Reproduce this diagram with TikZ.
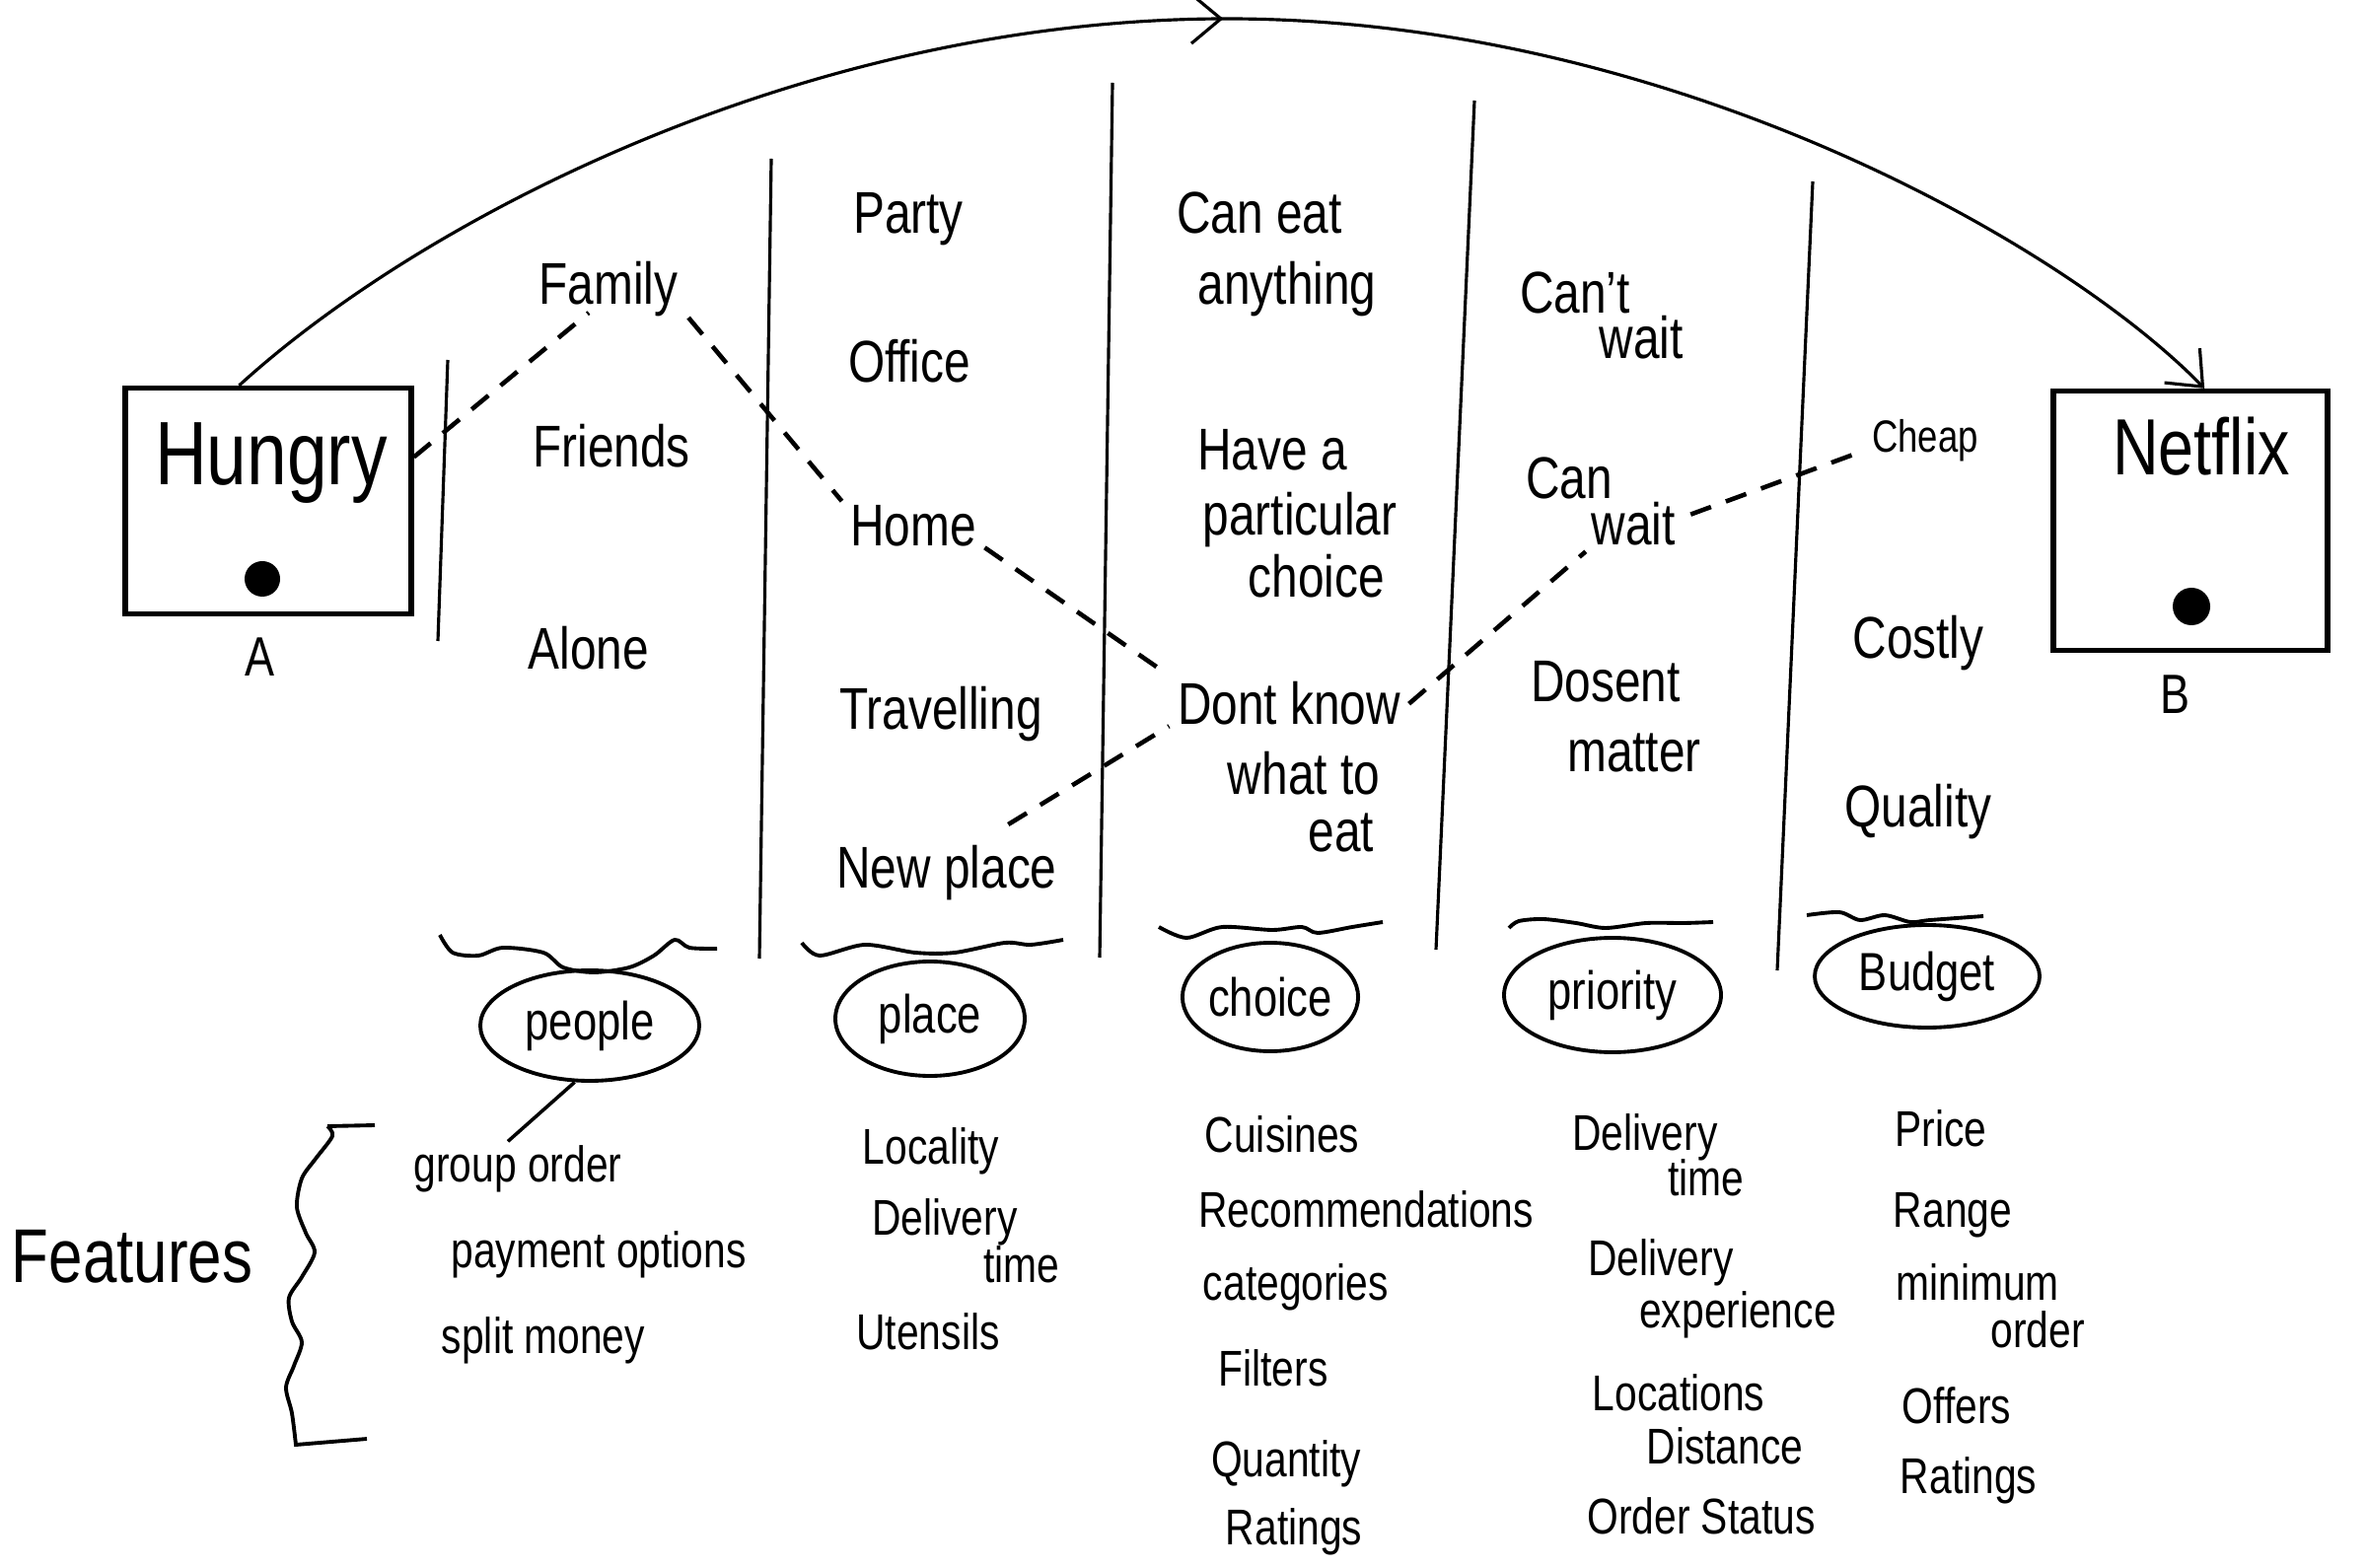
\documentclass[tikz,border=0pt]{standalone}
\usepackage{fontspec}
\setmainfont{Liberation Sans}[FakeStretch=0.8]
\usetikzlibrary{shapes.geometric,arrows.meta,decorations.markings,calc}
\begin{document}
\begin{tikzpicture}[x=0.1mm,y=-0.1mm,
  lbl/.style={anchor=base, inner sep=0pt, font=\fontsize{17}{20}\selectfont},
  smalllbl/.style={anchor=base, inner sep=0pt, font=\fontsize{13}{16}\selectfont},
  feat/.style={anchor=base, inner sep=0pt, font=\fontsize{14.5}{17}\selectfont},
  bubble/.style={draw, ellipse, line width=1.1pt, inner sep=0pt, font=\fontsize{15.5}{18}\selectfont},
  frame/.style={draw, line width=1.5pt, inner sep=0pt},
  blob/.style={circle, fill=black, inner sep=0pt},
  trail/.style={line width=1.3pt, dash pattern=on 2.2mm off 1.6mm},
  divider/.style={line width=0.9pt},
  wave/.style={line width=1.1pt},
  bigarc/.style={line width=0.9pt, -{Straight Barb[length=3mm,width=5mm]},
    postaction={decorate},
    decoration={markings, mark=at position 0.5 with {\arrow{Straight Barb[length=3mm,width=5mm]}}}}
]
\useasboundingbox (0,0) rectangle (2400,1590);

% ---------- boxes A and B ----------
\node[frame, minimum width=29mm, minimum height=22.9mm] (hungry) at (272,508) {};
\node[anchor=base, inner sep=0pt, font=\fontsize{26}{30}\selectfont] (hungrytxt) at (275,492) {Hungry};
\node[blob, minimum size=3.6mm] (hdot) at (266,587) {};
\node[anchor=base, inner sep=0pt, font=\fontsize{16}{19}\selectfont] (labA) at (263,686) {A};

\node[frame, minimum width=27.8mm, minimum height=26.3mm] (netflix) at (2221,528) {};
\node[anchor=base, inner sep=0pt, font=\fontsize{23}{27}\selectfont] (netflixtxt) at (2232,482) {Netflix};
\node[blob, minimum size=3.8mm] (ndot) at (2222,615) {};
\node[anchor=base, inner sep=0pt, font=\fontsize{16}{19}\selectfont] (labB) at (2205,724) {B};

% ---------- big arc ----------
\coordinate (arcstart) at ($(hungry.north west)!0.4!(hungry.north east)$);
\coordinate (arcend) at ($(netflix.north west)!0.55!(netflix.north east)$);
\coordinate (peak) at (1244,19);
\draw[bigarc] (arcstart) .. controls (430,220) and (820,19) .. (peak)
  .. controls (1690,19) and (2090,245) .. (arcend);

% ---------- dividers ----------
\draw[divider] (454,365) -- (444,650);
\draw[divider] (782,161) -- (770,972);
\draw[divider] (1128,84) -- (1115,971);
\draw[divider] (1495,102) -- (1456,963);
\draw[divider] (1838,184) -- (1802,984);

% ---------- column labels ----------
\node[lbl] (family) at (617,309) {Family};
\node[lbl] (friends) at (620,474) {Friends};
\node[lbl] (alone) at (597,679) {Alone};

\node[lbl] (party) at (921,237) {Party};
\node[lbl] (office) at (922,388) {Office};
\node[lbl] (home) at (926,554) {Home};
\node[lbl] (travelling) at (954,740) {Travelling};
\node[lbl] (newplace) at (960,900) {New place};

\node[lbl] (caneat1) at (1277,237) {Can eat};
\node[lbl] (caneat2) at (1305,309) {anything};
\node[lbl] (have1) at (1290,477) {Have a};
\node[lbl] (have2) at (1318,543) {particular};
\node[lbl] (have3) at (1335,606) {choice};
\node[lbl] (dk) at (1307,735) {Dont know};
\node[lbl] (dk2) at (1322,806) {what to};
\node[lbl] (dk3) at (1360,863) {eat};

\node[lbl] (cant1) at (1597,318) {Can't};
\node[lbl] (cant2) at (1664,364) {wait};
\node[lbl] (cw1) at (1591,506) {Can};
\node[lbl] (cw2) at (1656,553) {wait};
\node[lbl] (dm1) at (1628,712) {Dosent};
\node[lbl] (dm2) at (1657,782) {matter};

\node[smalllbl] (cheap) at (1952,459) {Cheap};
\node[lbl] (costly) at (1945,668) {Costly};
\node[lbl] (quality) at (1945,839) {Quality};

% ---------- chosen path ----------
\draw[trail] ($(hungry.north east)!0.31!(hungry.south east)$) -- ([xshift=-2mm,yshift=0.5mm]family.south);
\draw[trail] ([xshift=1mm]family.south east) -- ([xshift=-0.8mm,yshift=0.4mm]home.north west);
\draw[trail] ([xshift=0.8mm]home.south east) -- ([xshift=-0.8mm,yshift=0.6mm]dk.north west);
\draw[trail] ([xshift=-5mm,yshift=2mm]newplace.north east) -- ([xshift=-0.8mm]dk.south west);
\draw[trail] ([xshift=0.8mm]dk.east) -- ([xshift=-0.5mm,yshift=-0.5mm]cw2.south west);
\draw[trail] ([xshift=1.5mm,yshift=1mm]cw2.east) -- ([xshift=-0.8mm,yshift=-1mm]cheap.west);

% ---------- wavy separators ----------
\draw[wave] plot[smooth] coordinates {(446,948) (459,966) (485,969) (510,961) (551,966) (571,981) (602,986) (638,981) (663,969) (684,953) (699,961) (727,962)};
\draw[wave] plot[smooth] coordinates {(813,956) (831,969) (877,958) (928,966) (968,966) (1019,956) (1045,958) (1078,953)};
\draw[wave] plot[smooth] coordinates {(1175,940) (1203,951) (1239,940) (1290,943) (1320,940) (1336,946) (1371,940) (1402,935)};
\draw[wave] plot[smooth] coordinates {(1530,941) (1540,934) (1565,932) (1598,936) (1628,941) (1669,936) (1707,936) (1737,935)};
\draw[wave] plot[smooth] coordinates {(1832,928) (1865,925) (1886,933) (1911,928) (1937,935) (1957,933) (2011,929)};

% ---------- category bubbles ----------
\node[bubble, minimum width=22.2mm, minimum height=11.2mm] (people) at (598,1040) {people};
\node[bubble, minimum width=19.2mm, minimum height=11.6mm] (place) at (943,1033) {place};
\node[bubble, minimum width=17.8mm, minimum height=11mm] (choice) at (1288,1011) {choice};
\node[bubble, minimum width=22mm, minimum height=11.6mm] (priority) at (1635,1009) {priority};
\node[bubble, minimum width=22.8mm, minimum height=10.4mm] (budget) at (1954,990) {Budget};

% ---------- features ----------
\node[anchor=base, inner sep=0pt, font=\fontsize{22}{26}\selectfont] (features) at (134,1300) {Features};
\draw[wave] (380,1141) -- (332,1142) plot[smooth] coordinates {(332,1142) (337,1152) (320,1175) (306,1195) (301,1224) (310,1250) (319,1270) (306,1295) (293,1316) (296,1340) (306,1361) (298,1385) (290,1407) (296,1433) (300,1465)} -- (372,1459);

\node[feat] (go) at (525,1198) {group order};
\node[feat] (pay) at (607,1285) {payment options};
\node[feat] (split) at (551,1372) {split money};
\draw[line width=1pt] (people.255) -- ([xshift=-1mm,yshift=0.3mm]go.north);

\node[feat] (locality) at (944,1180) {Locality};
\node[feat] (pdel1) at (958,1252) {Delivery};
\node[feat] (pdel2) at (1036,1300) {time};
\node[feat] (utensils) at (941,1368) {Utensils};

\node[feat] (cuisines) at (1300,1168) {Cuisines};
\node[feat] (recomm) at (1385,1244) {Recommendations};
\node[feat] (categ) at (1314,1318) {categories};
\node[feat] (filters) at (1291,1405) {Filters};
\node[feat] (quantity) at (1304,1497) {Quantity};
\node[feat] (cratings) at (1312,1566) {Ratings};

\node[feat] (dt1) at (1668,1166) {Delivery};
\node[feat] (dt2) at (1730,1212) {time};
\node[feat] (de1) at (1684,1293) {Delivery};
\node[feat] (de2) at (1762,1346) {experience};
\node[feat] (loc1) at (1702,1430) {Locations};
\node[feat] (loc2) at (1749,1484) {Distance};
\node[feat] (status) at (1725,1555) {Order Status};

\node[feat] (price) at (1968,1162) {Price};
\node[feat] (range) at (1980,1244) {Range};
\node[feat] (minord1) at (2005,1318) {minimum};
\node[feat] (minord2) at (2066,1366) {order};
\node[feat] (offers) at (1984,1443) {Offers};
\node[feat] (bratings) at (1996,1514) {Ratings};
\end{tikzpicture}
\end{document}
